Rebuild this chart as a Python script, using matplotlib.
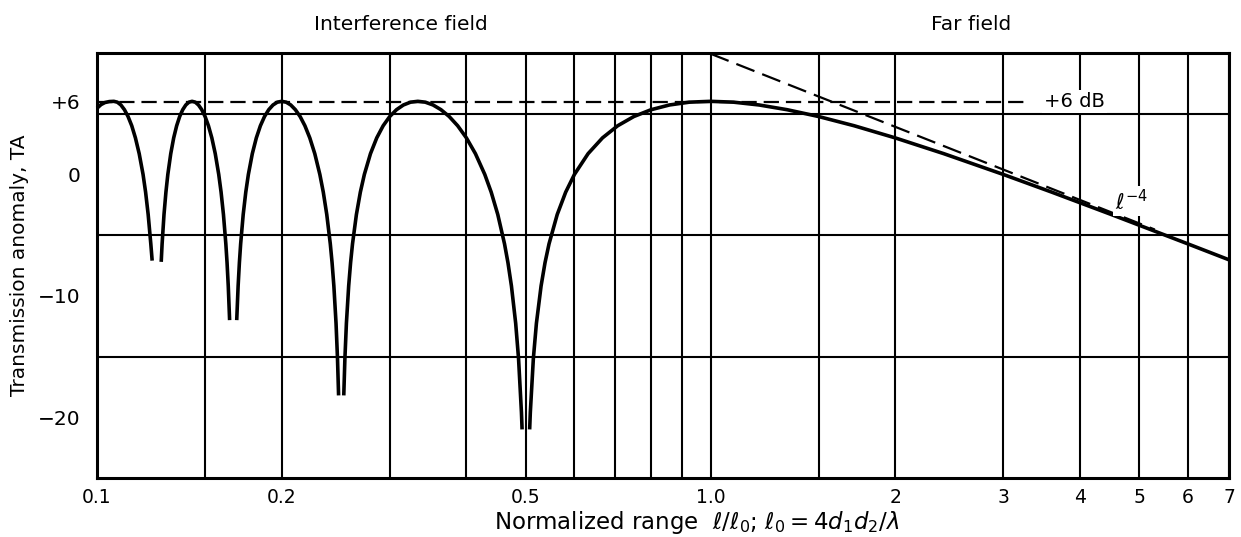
import numpy as np
import matplotlib
matplotlib.use("Agg")
import matplotlib.pyplot as plt

plt.rcParams["font.family"] = ["DejaVu Sans"]
plt.rcParams["mathtext.fontset"] = "dejavusans"
plt.rcParams["lines.scale_dashes"] = False

# Transmission anomaly TA (dB) versus normalized range l/l0, one list per interference lobe
lobe4_x = [0.1000, 0.1015, 0.1030, 0.1047, 0.1065, 0.10791, 0.10937, 0.11083, 0.11234,
           0.11391, 0.11549, 0.11714, 0.11885, 0.11999, 0.12115, 0.12236, 0.12298]
lobe4_ta = [5.45, 5.75, 5.92, 6.0, 6.02, 5.95, 5.72, 5.33, 4.77, 4.01, 3.01, 1.71,
            0.0, -1.46, -3.30, -5.72, -7.1]

lobe3_x = [0.12723, 0.12766, 0.12857, 0.12950, 0.13043, 0.13187, 0.13333, 0.13483,
           0.13636, 0.13793, 0.13953, 0.14118, 0.14286, 0.14458, 0.14634, 0.14815,
           0.15000, 0.15190, 0.15385, 0.15584, 0.15789, 0.15929, 0.16071, 0.16216,
           0.16290, 0.16364, 0.16447]
lobe3_ta = [-7.2, -5.72, -3.30, -1.46, 0.0, 1.71, 3.01, 4.01, 4.77, 5.33, 5.72, 5.95,
            6.02, 5.95, 5.72, 5.33, 4.77, 4.01, 3.01, 1.71, 0.0, -1.46, -3.30, -5.72,
            -7.27, -9.19, -12.0]

lobe2_x = [0.16892, 0.16981, 0.17062, 0.17143, 0.17308, 0.17476, 0.17647, 0.17910,
           0.18182, 0.18462, 0.18750, 0.19048, 0.19355, 0.19672, 0.20000, 0.20339,
           0.20690, 0.21053, 0.21429, 0.21818, 0.22222, 0.22642, 0.23077, 0.23377,
           0.23684, 0.24000, 0.24161, 0.24324, 0.24523, 0.24658, 0.24759]
lobe2_ta = [-12.0, -9.19, -7.27, -5.72, -3.30, -1.46, 0.0, 1.71, 3.01, 4.01, 4.77,
            5.33, 5.72, 5.95, 6.02, 5.95, 5.72, 5.33, 4.77, 4.01, 3.01, 1.71, 0.0,
            -1.46, -3.30, -5.72, -7.27, -9.19, -12.26, -15.17, -18.2]

lobe1_x = [0.25245, 0.25352, 0.25496, 0.25714, 0.25899, 0.26087, 0.26471, 0.26866,
           0.27273, 0.27907, 0.28571, 0.29268, 0.30000, 0.30769, 0.31579, 0.32432,
           0.33333, 0.34286, 0.35294, 0.36364, 0.37500, 0.38710, 0.40000, 0.41379,
           0.42857, 0.43902, 0.45000, 0.46154, 0.46753, 0.47368, 0.48128, 0.48649,
           0.49180, 0.49301]
lobe1_ta = [-18.2, -15.17, -12.26, -9.19, -7.27, -5.72, -3.30, -1.46, 0.0, 1.71, 3.01,
            4.01, 4.77, 5.33, 5.72, 5.95, 6.02, 5.95, 5.72, 5.33, 4.77, 4.01, 3.01,
            1.71, 0.0, -1.46, -3.30, -5.72, -7.27, -9.19, -12.26, -15.17, -19.6, -21.0]

lobe0_x = [0.5072, 0.50847, 0.51429, 0.52023, 0.52941, 0.53731, 0.54545, 0.5625,
           0.58065, 0.6000, 0.63158, 0.66667, 0.70588, 0.7500, 0.8000, 0.85714,
           0.92308, 1.0000, 1.09091, 1.2000, 1.33333, 1.5000, 1.71429, 2.0000, 2.4000,
           3.0000, 3.6000, 4.5000, 5.14286, 6.0000, 7.0000]
lobe0_ta = [-21.0, -19.6, -15.17, -12.26, -9.19, -7.27, -5.72, -3.30, -1.46, 0.0,
            1.71, 3.01, 4.01, 4.77, 5.33, 5.72, 5.95, 6.02, 5.95, 5.72, 5.33, 4.77,
            4.01, 3.01, 1.71, 0.0, -1.46, -3.30, -4.42, -5.72, -7.03]

# +6 dB reference level and the l^-4 far-field asymptote
ref6_x = [0.1, 3.3]
ref6_ta = [6.0, 6.0]
asym_x = [1.0, 5.3]
asym_ta = [9.94, -4.54]

xtick_vals = [0.1, 0.2, 0.5, 1.0, 2, 3, 4, 5, 6, 7]
xtick_labels = ["0.1", "0.2", "0.5", "1.0", "2", "3", "4", "5", "6", "7"]
ytick_vals = [6, 0, -10, -20]
ytick_labels = ["+6", "0", "\u221210", "\u221220"]

xgrid_extra = [0.15, 0.3, 0.4, 0.6, 0.7, 0.8, 0.9, 1.5]
ygrid_vals = [5, 0, -5, -10, -15, -20]

fig = plt.figure(figsize=(12.41, 5.37), dpi=100)
ax = fig.add_axes([0.0782, 0.1099, 0.9121, 0.7914])
ax.set_xscale("log")
ax.set_xlim(0.1, 7)
ax.set_ylim(-25, 10)

# grid
ax.set_xticks(xtick_vals)
ax.set_xticklabels(xtick_labels)
ax.set_xticks(xgrid_extra, minor=True)
ax.set_xticklabels([], minor=True)
ax.set_yticks(ytick_vals)
ax.set_yticklabels(ytick_labels)
ax.set_yticks(ygrid_vals, minor=True)
ax.grid(True, axis="x", which="both", color="black", lw=1.5, zorder=1)
ax.grid(True, axis="y", which="minor", color="black", lw=1.5, zorder=1)
ax.set_axisbelow(True)
ax.tick_params(which="both", length=0)
ax.tick_params(axis="x", pad=7, labelsize=13.5)
ax.tick_params(axis="y", pad=12, labelsize=14.5)
for sp in ax.spines.values():
    sp.set_linewidth(2.2)

# TA curve, broken at the nulls
curve_x, curve_ta = [], []
for xs, ys in [(lobe4_x, lobe4_ta), (lobe3_x, lobe3_ta), (lobe2_x, lobe2_ta),
               (lobe1_x, lobe1_ta), (lobe0_x, lobe0_ta)]:
    curve_x += xs + [np.nan]
    curve_ta += ys + [np.nan]
ax.plot(curve_x, curve_ta, color="black", lw=2.6, zorder=4,
        solid_capstyle="butt", solid_joinstyle="round", clip_on=False)

ax.plot(ref6_x, ref6_ta, color="black", lw=1.6, dashes=(11, 5), zorder=3)
ax.plot(asym_x, asym_ta, color="black", lw=1.6, dashes=(14, 6), zorder=3)

box = dict(facecolor="white", edgecolor="none", pad=1.5)
ax.text(3.5, 6.0, "+6 dB", fontsize=14, ha="left", va="center", bbox=box, zorder=5)
ax.text(4.85, -2.2, r"$\ell^{-4}$", fontsize=15, ha="center", va="center",
        bbox=box, zorder=5)

ax.set_ylabel("Transmission anomaly, TA", fontsize=14.5, labelpad=6)
fig.text(697 / 1241, 1 - 522 / 537,
         r"Normalized range  $\ell/\ell_0$; $\ell_0 = 4d_1d_2/\lambda$",
         fontsize=16.5, ha="center", va="center")
fig.text(401 / 1241, 1 - 25 / 537, "Interference field", fontsize=14.5,
         ha="center", va="center")
fig.text(971 / 1241, 1 - 25 / 537, "Far field", fontsize=14.5,
         ha="center", va="center")

fig.savefig("out.png", dpi=100, facecolor="white")
